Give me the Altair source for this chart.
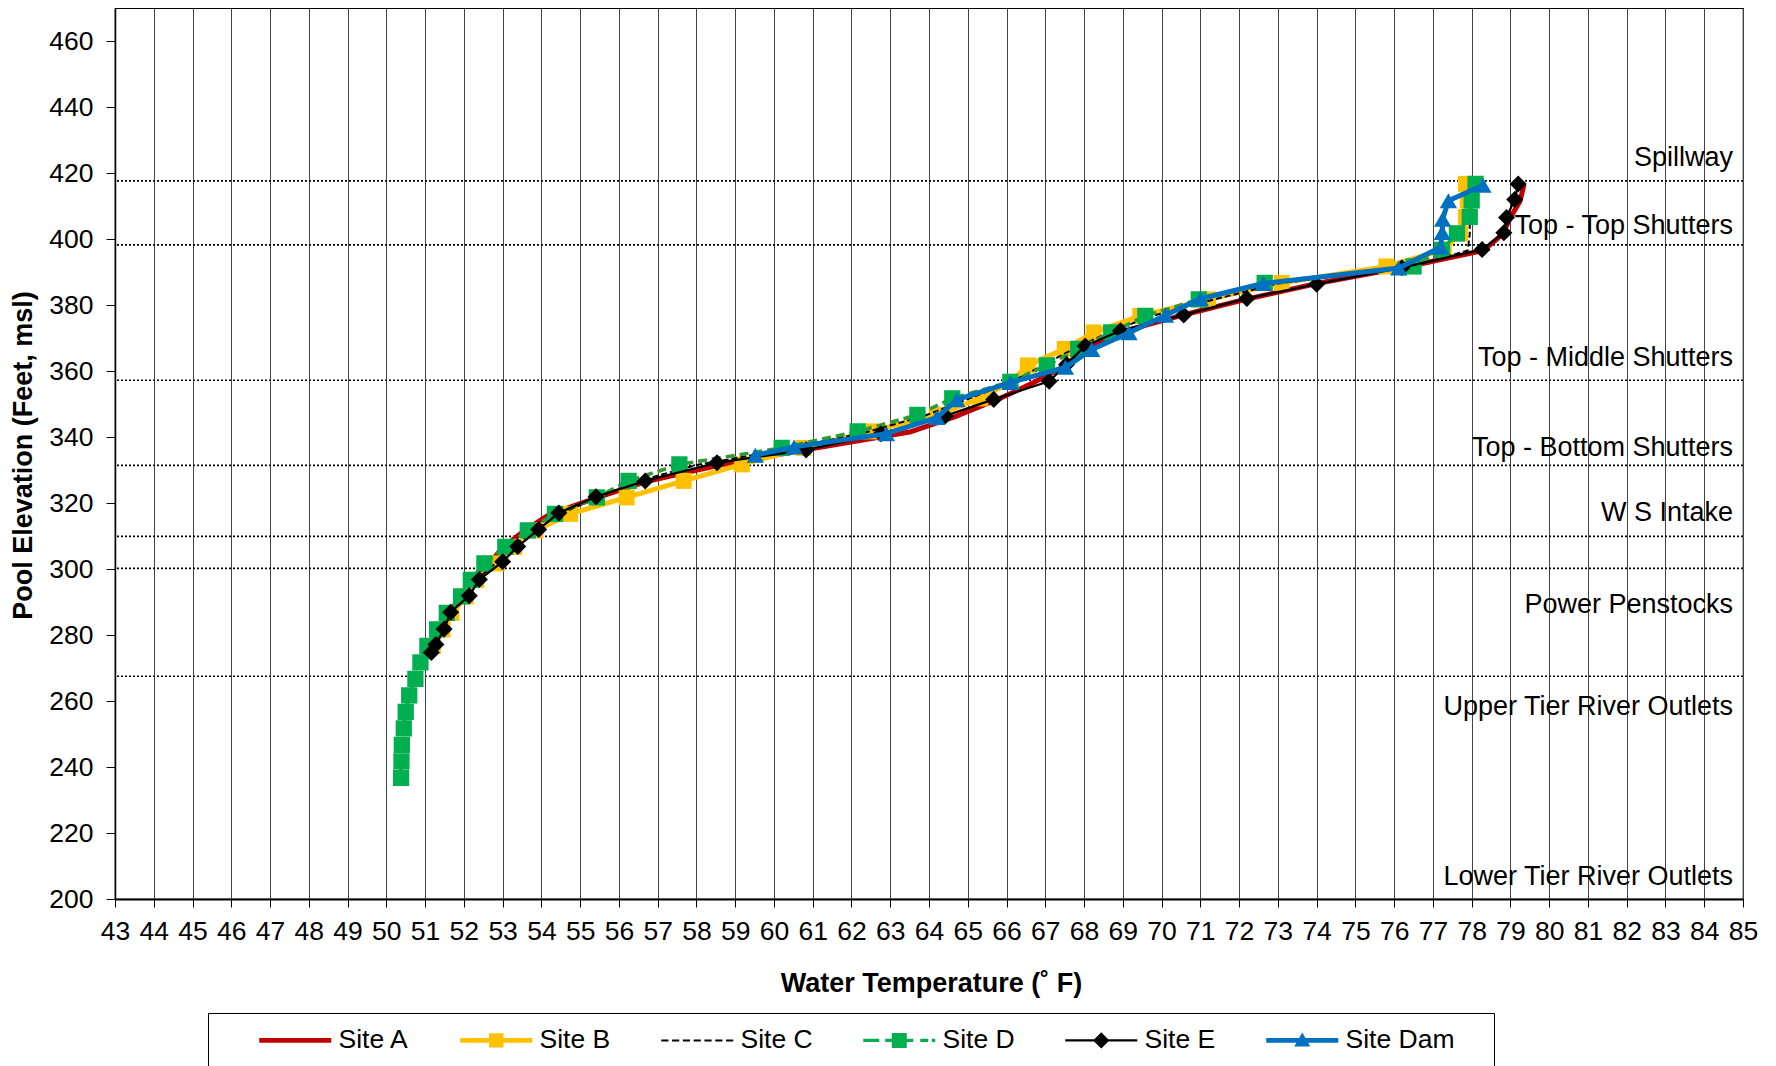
import altair as alt
import pandas as pd

FONT = "Liberation Sans, Arial, sans-serif"

# ---------------- data ----------------
site_a_elev = [276.5, 281.5, 286.5, 291.5, 296.5, 301.5, 306.5, 311.5, 316.5, 321.5,
               326.5, 331.5, 336.5, 341.5, 346.5, 351.5, 356.5, 361.5, 366.5, 371.5,
               376.5, 381.5, 386.5, 391.5, 396.5, 401.5, 406.5, 411.5, 416.5]
site_a_temp = [51.20, 51.45, 51.65, 52.05, 52.30, 52.65, 53.00, 53.55, 54.20, 55.40,
               56.70, 58.60, 61.00, 63.50, 64.75, 65.80, 66.70, 67.50, 68.00, 68.85,
               70.40, 72.10, 74.00, 76.30, 78.30, 78.80, 79.00, 79.25, 79.35]

site_b_elev = [276.7, 281.7, 286.7, 291.7, 296.7, 301.7, 306.7, 311.7, 316.7, 321.7,
               326.7, 331.7, 336.7, 341.7, 346.7, 351.7, 356.7, 361.7, 366.7, 371.7,
               376.7, 381.7, 386.7, 391.7, 396.7, 401.7, 406.7, 411.7, 416.7]
site_b_temp = [51.20, 51.45, 51.68, 52.05, 52.32, 52.85, 53.30, 53.85, 54.74, 56.20,
               57.67, 59.17, 60.76, 62.50, 64.20, 65.32, 66.10, 66.55, 67.50, 68.25,
               69.45, 71.20, 73.10, 75.80, 77.28, 77.70, 77.85, 77.90, 77.85]

site_c_elev = [276.5, 281.5, 286.5, 291.5, 296.5, 301.5, 306.5, 311.5, 316.5, 321.5,
               326.5, 331.5, 336.5, 341.5, 346.5, 351.5, 356.5, 361.5, 366.5, 371.5,
               376.5, 381.5, 386.5, 391.5, 396.5, 401.5, 406.5, 411.5, 416.5]
site_c_temp = [51.15, 51.42, 51.62, 52.05, 52.30, 52.80, 53.25, 53.80, 54.45, 55.40,
               56.45, 58.00, 60.40, 62.40, 63.90, 65.00, 66.10, 66.90, 67.70, 68.60,
               69.70, 71.30, 73.00, 76.40, 77.90, 77.95, 77.95, 78.00, 78.05]

site_d_elev = [236.7, 241.7, 246.7, 251.7, 256.7, 261.7, 266.7, 271.7, 276.7, 281.7,
               286.7, 291.7, 296.7, 301.7, 306.7, 311.7, 316.7, 321.7, 326.7, 331.7,
               336.7, 341.7, 346.7, 351.7, 356.7, 361.7, 366.7, 371.7, 376.7, 381.7,
               386.7, 391.7, 396.7, 401.7, 406.7, 411.7, 416.7]
site_d_temp = [50.38, 50.39, 50.40, 50.45, 50.50, 50.59, 50.75, 50.88, 51.06, 51.31,
               51.56, 51.93, 52.18, 52.53, 53.07, 53.65, 54.35, 55.43, 56.25, 57.56,
               60.20, 62.16, 63.70, 64.60, 66.10, 67.04, 67.85, 68.70, 69.58, 70.96,
               72.66, 76.50, 77.23, 77.62, 77.95, 78.00, 78.10]

site_e_elev = [274.7, 277.1, 281.8, 286.9, 291.9, 296.8, 302.2, 306.8, 312.0, 317.0,
               321.9, 326.7, 332.2, 336.1, 341.0, 346.4, 351.4, 356.9, 362.0, 367.6,
               372.2, 377.0, 382.0, 386.3, 391.3, 396.8, 401.9, 406.5, 412.0, 416.7]
site_e_temp = [51.16, 51.28, 51.49, 51.66, 52.14, 52.40, 53.00, 53.39, 53.93, 54.45,
               55.41, 56.68, 58.53, 60.83, 62.76, 64.42, 65.67, 67.10, 67.55, 68.03,
               68.94, 70.57, 72.20, 74.00, 76.20, 78.27, 78.83, 78.90, 79.11, 79.20]

site_dam_elev = [334.5, 337.0, 341.0, 345.9, 351.3, 356.5, 361.1, 366.5, 371.6, 376.9,
                 381.9, 386.5, 391.2, 397.5, 402.0, 406.0, 411.6, 416.3]
site_dam_temp = [59.52, 60.52, 62.90, 64.20, 64.72, 66.10, 67.52, 68.20, 69.16, 70.10,
                 71.00, 72.62, 76.12, 77.20, 77.24, 77.25, 77.40, 78.29]

sites = ["Site A", "Site B", "Site C", "Site D", "Site E", "Site Dam"]
site_colors = ["#C00000", "#FFC000", "#000000", "#00B050", "#000000", "#0070C0"]

outlet_line_elev = [417.6, 398.2, 357.2, 331.4, 309.9, 300.2, 267.5]

zone_labels = ["Spillway", "Top - Top Shutters", "Top - Middle Shutters",
               "Top - Bottom Shutters", "W S Intake", "Power Penstocks",
               "Upper Tier River Outlets", "Lower Tier River Outlets"]
zone_label_elev = [424.6, 403.9, 364.0, 336.8, 317.1, 289.2, 258.1, 206.7]

x_ticks = list(range(43, 86))
y_ticks = list(range(200, 461, 20))

# ---------------- helpers ----------------
def series(elev, temp):
    return pd.DataFrame({"elev": elev, "temp": temp})

xs = alt.Scale(domain=[43, 85], nice=False, zero=False)
ys = alt.Scale(domain=[200, 470], nice=False, zero=False)

x_axis = alt.Axis(values=x_ticks, tickCount=len(x_ticks), format="d",
                  title="Water Temperature (˚ F)",
                  grid=True, gridColor="#444444", gridWidth=1,
                  tickColor="black", tickSize=8, domainColor="black", domainWidth=2,
                  labelFont=FONT, labelFontSize=26.5, labelColor="black",
                  labelPadding=24, labelBaseline="middle", labelOverlap=False,
                  labelFlush=False,
                  titleFont=FONT, titleFontSize=27, titleFontWeight="bold",
                  titleColor="black", titleX=816, titleY=84, titleBaseline="middle")
y_axis = alt.Axis(values=y_ticks, tickCount=len(y_ticks), format="d",
                  title="Pool Elevation (Feet, msl)",
                  grid=False, tickColor="black", tickSize=9,
                  domainColor="black", domainWidth=1.5,
                  labelFont=FONT, labelFontSize=26.5, labelColor="black",
                  labelPadding=13, labelOverlap=False, labelFlush=False,
                  titleFont=FONT, titleFontSize=27, titleFontWeight="bold",
                  titleColor="black", titleX=-92, titleY=447, titleBaseline="middle")

X = alt.X("temp:Q", scale=xs, axis=x_axis)
Y = alt.Y("elev:Q", scale=ys, axis=y_axis)
O = alt.Order("elev:Q")


def line_layer(df, color, width, dash=None):
    kw = dict(color=color, strokeWidth=width, strokeJoin="round", strokeCap="butt")
    if dash:
        kw["strokeDash"] = dash
    return alt.Chart(df).mark_line(**kw).encode(x=X, y=Y, order=O)


def point_layer(df, shape, color, size):
    return alt.Chart(df).mark_point(shape=shape, filled=True, fill=color, color=color,
                                    size=size, opacity=1, strokeWidth=0).encode(x=X, y=Y)


dfa = series(site_a_elev, site_a_temp)
dfb = series(site_b_elev, site_b_temp)
dfc = series(site_c_elev, site_c_temp)
dfd = series(site_d_elev, site_d_temp)
dfe = series(site_e_elev, site_e_temp)
dfdam = series(site_dam_elev, site_dam_temp)

# dotted outlet reference lines
hlines = alt.Chart(pd.DataFrame({"elev": outlet_line_elev})).mark_rule(
    color="black", strokeDash=[2, 2], strokeWidth=1.7).encode(y=Y)

labels = alt.Chart(pd.DataFrame({"label": zone_labels, "elev": zone_label_elev})).mark_text(
    align="right", baseline="middle", font=FONT, fontSize=27, color="black", dx=-10
).encode(x=alt.datum(85), y=Y, text="label:N")

# ---------------- legend (custom line+marker symbols) ----------------
# symbol unit = 10 px (symbolSize 400); drawings run from x=-1 to x=6.2 (72 px)
def rect(x0, x1, y0, y1):
    return f"M{x0},{y0}H{x1}V{y1}H{x0}Z"

CX = 2.6
sq = rect(CX - 0.72, CX + 0.72, -0.72, 0.72)
sq_d = rect(CX - 0.75, CX + 0.75, -0.75, 0.75)
diamond = f"M{CX},-0.82L{CX + 0.82},0L{CX},0.82L{CX - 0.82},0Z"
tri = f"M{CX},-0.8L{CX + 0.8},0.62H{CX - 0.8}Z"
c_dashes = "".join(rect(round(-1 + k * 1.08, 3), round(-1 + k * 1.08 + 0.72, 3), -0.1, 0.1)
                   for k in range(7))
d_dashes = (rect(-1, 0.6, -0.17, 0.17) + rect(1.2, 4.0, -0.17, 0.17)
            + rect(4.7, 5.5, -0.17, 0.17) + rect(5.85, 6.2, -0.17, 0.17))
legend_paths = [
    rect(-1, 6.2, -0.24, 0.24),
    rect(-1, 6.2, -0.23, 0.23) + sq,
    c_dashes,
    d_dashes + sq_d,
    rect(-1, 6.2, -0.11, 0.11) + diamond,
    rect(-1, 6.2, -0.23, 0.23) + tri,
]

leg = alt.Legend(title=" ", titleOrient="right", titlePadding=26, titleFontSize=26,
                 orient="none", legendX=93, legendY=1005,
                 direction="horizontal", columns=6, symbolSize=400,
                 symbolStrokeWidth=0, symbolOpacity=1, symbolOffset=34,
                 labelFont=FONT, labelFontSize=26.5, labelColor="black",
                 labelOffset=56, columnPadding=13, padding=14,
                 strokeColor="black", fillColor="white", labelLimit=300)

legend_layer = alt.Chart(pd.DataFrame({"site": sites})).transform_filter(
    "false").mark_point(filled=True, opacity=1).encode(
    shape=alt.Shape("site:N", scale=alt.Scale(domain=sites, range=legend_paths), legend=leg),
    fill=alt.Fill("site:N", scale=alt.Scale(domain=sites, range=site_colors), legend=leg),
)

layers = [
    hlines,
    line_layer(dfa, "#C00000", 5),
    line_layer(dfb, "#FFC000", 5),
    point_layer(dfb, "square", "#FFC000", 255),
    line_layer(dfc, "#000000", 2, [6, 3]),
    line_layer(dfd, "#339933", 3.6, [9, 5]),
    point_layer(dfd, "square", "#00B050", 265),
    line_layer(dfe, "#000000", 2.3),
    point_layer(dfe, "diamond", "#000000", 290),
    line_layer(dfdam, "#0070C0", 5),
    point_layer(dfdam, "triangle-up", "#0070C0", 300),
    labels,
    legend_layer,
]

chart = alt.layer(*layers).properties(
    width=1628, height=891,
    padding={"left": 107, "top": 0, "right": 20, "bottom": 185},
    autosize=alt.AutoSizeParams(type="none"),
    background="white",
).configure_view(stroke="black", strokeWidth=1.2)

chart.save("out.html", embed_options={"renderer": "svg", "actions": False})
